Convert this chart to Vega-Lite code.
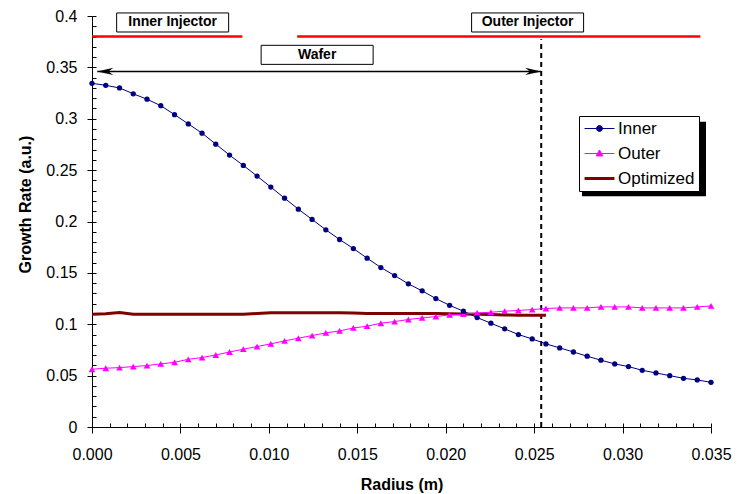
{
  "$schema": "https://vega.github.io/schema/vega-lite/v6.json",
  "width": 619,
  "height": 411,
  "autosize": {"type": "none"},
  "padding": {"left": 92, "top": 16, "right": 29, "bottom": 67},
  "background": "white",
  "config": {
    "view": {"stroke": null},
    "font": "Liberation Sans",
    "axis": {"grid": false, "domainColor": "black", "tickColor": "black", "labelColor": "black", "titleColor": "black", "labelFont": "Liberation Sans", "titleFont": "Liberation Sans", "labelFlush": false}
  },
  "datasets": {
    "series": [
      {"radius": 0, "series": "Inner", "rate": 0.3345},
      {"radius": 0.000778, "series": "Inner", "rate": 0.3325},
      {"radius": 0.001556, "series": "Inner", "rate": 0.33},
      {"radius": 0.002333, "series": "Inner", "rate": 0.3243},
      {"radius": 0.003111, "series": "Inner", "rate": 0.319},
      {"radius": 0.003889, "series": "Inner", "rate": 0.3127},
      {"radius": 0.004667, "series": "Inner", "rate": 0.304},
      {"radius": 0.005444, "series": "Inner", "rate": 0.295},
      {"radius": 0.006222, "series": "Inner", "rate": 0.286},
      {"radius": 0.007, "series": "Inner", "rate": 0.2753},
      {"radius": 0.007778, "series": "Inner", "rate": 0.2646},
      {"radius": 0.008556, "series": "Inner", "rate": 0.2546},
      {"radius": 0.009333, "series": "Inner", "rate": 0.2442},
      {"radius": 0.010111, "series": "Inner", "rate": 0.2335},
      {"radius": 0.010889, "series": "Inner", "rate": 0.2227},
      {"radius": 0.011667, "series": "Inner", "rate": 0.212},
      {"radius": 0.012444, "series": "Inner", "rate": 0.202},
      {"radius": 0.013222, "series": "Inner", "rate": 0.1919},
      {"radius": 0.014, "series": "Inner", "rate": 0.1825},
      {"radius": 0.014778, "series": "Inner", "rate": 0.1737},
      {"radius": 0.015556, "series": "Inner", "rate": 0.1643},
      {"radius": 0.016333, "series": "Inner", "rate": 0.1552},
      {"radius": 0.017111, "series": "Inner", "rate": 0.1474},
      {"radius": 0.017889, "series": "Inner", "rate": 0.1393},
      {"radius": 0.018667, "series": "Inner", "rate": 0.1325},
      {"radius": 0.019444, "series": "Inner", "rate": 0.125},
      {"radius": 0.020222, "series": "Inner", "rate": 0.1184},
      {"radius": 0.021, "series": "Inner", "rate": 0.1127},
      {"radius": 0.021778, "series": "Inner", "rate": 0.1065},
      {"radius": 0.022556, "series": "Inner", "rate": 0.101},
      {"radius": 0.023333, "series": "Inner", "rate": 0.0955},
      {"radius": 0.024111, "series": "Inner", "rate": 0.09},
      {"radius": 0.024889, "series": "Inner", "rate": 0.0857},
      {"radius": 0.025667, "series": "Inner", "rate": 0.0809},
      {"radius": 0.026444, "series": "Inner", "rate": 0.077},
      {"radius": 0.027222, "series": "Inner", "rate": 0.073},
      {"radius": 0.028, "series": "Inner", "rate": 0.0689},
      {"radius": 0.028778, "series": "Inner", "rate": 0.065},
      {"radius": 0.029556, "series": "Inner", "rate": 0.0614},
      {"radius": 0.030333, "series": "Inner", "rate": 0.0588},
      {"radius": 0.031111, "series": "Inner", "rate": 0.0552},
      {"radius": 0.031889, "series": "Inner", "rate": 0.0526},
      {"radius": 0.032667, "series": "Inner", "rate": 0.05},
      {"radius": 0.033444, "series": "Inner", "rate": 0.0474},
      {"radius": 0.034222, "series": "Inner", "rate": 0.0458},
      {"radius": 0.035, "series": "Inner", "rate": 0.0435},
      {"radius": 0, "series": "Outer", "rate": 0.0562},
      {"radius": 0.000778, "series": "Outer", "rate": 0.0572},
      {"radius": 0.001556, "series": "Outer", "rate": 0.0578},
      {"radius": 0.002333, "series": "Outer", "rate": 0.0588},
      {"radius": 0.003111, "series": "Outer", "rate": 0.0598},
      {"radius": 0.003889, "series": "Outer", "rate": 0.0614},
      {"radius": 0.004667, "series": "Outer", "rate": 0.063},
      {"radius": 0.005444, "series": "Outer", "rate": 0.0659},
      {"radius": 0.006222, "series": "Outer", "rate": 0.0676},
      {"radius": 0.007, "series": "Outer", "rate": 0.0701},
      {"radius": 0.007778, "series": "Outer", "rate": 0.073},
      {"radius": 0.008556, "series": "Outer", "rate": 0.0757},
      {"radius": 0.009333, "series": "Outer", "rate": 0.0783},
      {"radius": 0.010111, "series": "Outer", "rate": 0.0809},
      {"radius": 0.010889, "series": "Outer", "rate": 0.0838},
      {"radius": 0.011667, "series": "Outer", "rate": 0.0864},
      {"radius": 0.012444, "series": "Outer", "rate": 0.089},
      {"radius": 0.013222, "series": "Outer", "rate": 0.0916},
      {"radius": 0.014, "series": "Outer", "rate": 0.0935},
      {"radius": 0.014778, "series": "Outer", "rate": 0.0964},
      {"radius": 0.015556, "series": "Outer", "rate": 0.0981},
      {"radius": 0.016333, "series": "Outer", "rate": 0.101},
      {"radius": 0.017111, "series": "Outer", "rate": 0.1026},
      {"radius": 0.017889, "series": "Outer", "rate": 0.1046},
      {"radius": 0.018667, "series": "Outer", "rate": 0.1062},
      {"radius": 0.019444, "series": "Outer", "rate": 0.1075},
      {"radius": 0.020222, "series": "Outer", "rate": 0.1091},
      {"radius": 0.021, "series": "Outer", "rate": 0.1098},
      {"radius": 0.021778, "series": "Outer", "rate": 0.111},
      {"radius": 0.022556, "series": "Outer", "rate": 0.1117},
      {"radius": 0.023333, "series": "Outer", "rate": 0.1127},
      {"radius": 0.024111, "series": "Outer", "rate": 0.1134},
      {"radius": 0.024889, "series": "Outer", "rate": 0.1143},
      {"radius": 0.025667, "series": "Outer", "rate": 0.1153},
      {"radius": 0.026444, "series": "Outer", "rate": 0.1159},
      {"radius": 0.027222, "series": "Outer", "rate": 0.1159},
      {"radius": 0.028, "series": "Outer", "rate": 0.1159},
      {"radius": 0.028778, "series": "Outer", "rate": 0.1169},
      {"radius": 0.029556, "series": "Outer", "rate": 0.1169},
      {"radius": 0.030333, "series": "Outer", "rate": 0.1169},
      {"radius": 0.031111, "series": "Outer", "rate": 0.1159},
      {"radius": 0.031889, "series": "Outer", "rate": 0.1159},
      {"radius": 0.032667, "series": "Outer", "rate": 0.1159},
      {"radius": 0.033444, "series": "Outer", "rate": 0.1159},
      {"radius": 0.034222, "series": "Outer", "rate": 0.1169},
      {"radius": 0.035, "series": "Outer", "rate": 0.1178},
      {"radius": 0, "series": "Optimized", "rate": 0.1097},
      {"radius": 0.000778, "series": "Optimized", "rate": 0.1102},
      {"radius": 0.001556, "series": "Optimized", "rate": 0.1115},
      {"radius": 0.002333, "series": "Optimized", "rate": 0.1097},
      {"radius": 0.003111, "series": "Optimized", "rate": 0.1097},
      {"radius": 0.003889, "series": "Optimized", "rate": 0.1097},
      {"radius": 0.004667, "series": "Optimized", "rate": 0.1097},
      {"radius": 0.005444, "series": "Optimized", "rate": 0.1097},
      {"radius": 0.006222, "series": "Optimized", "rate": 0.1097},
      {"radius": 0.007, "series": "Optimized", "rate": 0.1097},
      {"radius": 0.007778, "series": "Optimized", "rate": 0.1097},
      {"radius": 0.008556, "series": "Optimized", "rate": 0.1097},
      {"radius": 0.009333, "series": "Optimized", "rate": 0.1105},
      {"radius": 0.010111, "series": "Optimized", "rate": 0.1112},
      {"radius": 0.010889, "series": "Optimized", "rate": 0.1112},
      {"radius": 0.011667, "series": "Optimized", "rate": 0.1112},
      {"radius": 0.012444, "series": "Optimized", "rate": 0.1112},
      {"radius": 0.013222, "series": "Optimized", "rate": 0.1112},
      {"radius": 0.014, "series": "Optimized", "rate": 0.1112},
      {"radius": 0.014778, "series": "Optimized", "rate": 0.111},
      {"radius": 0.015556, "series": "Optimized", "rate": 0.1105},
      {"radius": 0.016333, "series": "Optimized", "rate": 0.1104},
      {"radius": 0.017111, "series": "Optimized", "rate": 0.1104},
      {"radius": 0.017889, "series": "Optimized", "rate": 0.1104},
      {"radius": 0.018667, "series": "Optimized", "rate": 0.1104},
      {"radius": 0.019444, "series": "Optimized", "rate": 0.1104},
      {"radius": 0.020222, "series": "Optimized", "rate": 0.1102},
      {"radius": 0.021, "series": "Optimized", "rate": 0.11},
      {"radius": 0.021778, "series": "Optimized", "rate": 0.1098},
      {"radius": 0.022556, "series": "Optimized", "rate": 0.1095},
      {"radius": 0.023333, "series": "Optimized", "rate": 0.1091},
      {"radius": 0.024111, "series": "Optimized", "rate": 0.1087},
      {"radius": 0.024889, "series": "Optimized", "rate": 0.1087},
      {"radius": 0.025667, "series": "Optimized", "rate": 0.1087}
    ],
    "injectors": [
      {"start": 0, "end": 0.0085, "level": 0.38},
      {"start": 0.0116, "end": 0.0344, "level": 0.38}
    ],
    "edge": [{"radius": 0.0254, "low": 0, "high": 0.3773}],
    "arrow": [{"start": 0.0003, "end": 0.0254, "level": 0.3461}],
    "labels": [
      {"label": "Inner Injector", "radius": 0.00456, "level": 0.3937},
      {"label": "Outer Injector", "radius": 0.02463, "level": 0.3937},
      {"label": "Wafer", "radius": 0.01273, "level": 0.3622}
    ]
  },
  "layer": [
    {
      "data": {"name": "injectors"},
      "mark": {"type": "rule", "color": "#FF0000", "strokeWidth": 2.5},
      "encoding": {
        "x": {"field": "start", "type": "quantitative", "scale": {"domain": [0, 0.035], "nice": false}, "axis": null},
        "x2": {"field": "end"},
        "y": {"field": "level", "type": "quantitative", "scale": {"domain": [0, 0.4], "nice": false}, "axis": null}
      }
    },
    {
      "data": {"name": "edge"},
      "mark": {"type": "rule", "color": "black", "strokeWidth": 2, "strokeDash": [5, 4]},
      "encoding": {
        "x": {"field": "radius", "type": "quantitative", "axis": null},
        "y": {"field": "low", "type": "quantitative", "axis": null},
        "y2": {"field": "high"}
      }
    },
    {
      "data": {"name": "arrow"},
      "mark": {"type": "rule", "color": "black", "strokeWidth": 1.5},
      "encoding": {
        "x": {"field": "start", "type": "quantitative", "axis": null},
        "x2": {"field": "end"},
        "y": {"field": "level", "type": "quantitative", "axis": null}
      }
    },
    {
      "data": {"name": "arrow"},
      "mark": {"type": "point", "shape": "M0,0L2,-0.45L1.4,0L2,0.45Z", "size": 256, "filled": true, "color": "black", "opacity": 1},
      "encoding": {
        "x": {"field": "start", "type": "quantitative", "axis": null},
        "y": {"field": "level", "type": "quantitative", "axis": null}
      }
    },
    {
      "data": {"name": "arrow"},
      "mark": {"type": "point", "shape": "M0,0L-2,-0.45L-1.4,0L-2,0.45Z", "size": 256, "filled": true, "color": "black", "opacity": 1},
      "encoding": {
        "x": {"field": "end", "type": "quantitative", "axis": null},
        "y": {"field": "level", "type": "quantitative", "axis": null}
      }
    },
    {
      "data": {"name": "labels"},
      "mark": {"type": "point", "shape": "M-1,-0.17L1,-0.17L1,0.17L-1,0.17Z", "size": 12544, "filled": true, "fill": "white", "stroke": "black", "strokeWidth": 1, "opacity": 1},
      "encoding": {
        "x": {"field": "radius", "type": "quantitative", "axis": null},
        "y": {"field": "level", "type": "quantitative", "axis": null}
      }
    },
    {
      "data": {"name": "labels"},
      "mark": {"type": "text", "font": "Liberation Sans", "fontSize": 14, "fontWeight": "bold", "color": "black", "align": "center", "baseline": "middle"},
      "encoding": {
        "x": {"field": "radius", "type": "quantitative", "axis": null},
        "y": {"field": "level", "type": "quantitative", "axis": null},
        "text": {"field": "label"},
        "opacity": {"field": "label", "type": "ordinal",
          "scale": {"range": [1, 1]},
          "legend": {
            "title": null, "orient": "none", "legendX": 490, "legendY": 81, "zindex": 0,
            "values": ["Wafer"],
            "padding": 0, "rowPadding": 0, "symbolSize": 15376, "symbolOffset": 0, "labelOffset": 0,
            "symbolType": "M-1,-0.6L1,-0.6L1,0.6L-1,0.6Z", "symbolStrokeColor": "black", "symbolFillColor": "black", "symbolStrokeWidth": 0,
            "labelExpr": "''", "labelFontSize": 1,
            "strokeColor": null, "fillColor": null
          }}
      }
    },
    {
      "data": {"name": "series"},
      "transform": [{"filter": "datum.series === 'Optimized'"}],
      "mark": {"type": "line", "strokeWidth": 3},
      "encoding": {
        "x": {"field": "radius", "type": "quantitative",
          "axis": {"orient": "bottom", "title": "Radius (m)", "values": [0, 0.005, 0.01, 0.015, 0.02, 0.025, 0.03, 0.035], "format": ".3f", "tickSize": 6, "labelFontSize": 16, "labelPadding": 13, "titleFontSize": 16, "titleFontWeight": "bold", "titlePadding": 14}},
        "y": {"field": "rate", "type": "quantitative",
          "axis": {"orient": "left", "title": "Growth Rate (a.u.)", "values": [0, 0.05, 0.1, 0.15, 0.2, 0.25, 0.3, 0.35, 0.4], "format": "~g", "tickSize": 5, "labelFontSize": 16, "labelPadding": 10, "titleFontSize": 16, "titleFontWeight": "bold", "titleX": -59, "titleY": 188}},
        "color": {"field": "series", "type": "nominal",
          "scale": {"domain": ["Inner", "Outer", "Optimized"], "range": ["#000080", "#FF00FF", "#800000"]},
          "legend": {
            "title": null, "orient": "none", "legendX": 487, "legendY": 100, "zindex": 1,
            "padding": 4, "rowPadding": 7, "symbolSize": 484, "symbolOffset": 8, "labelOffset": 10,
            "labelFont": "Liberation Sans", "labelFontSize": 17, "labelColor": "black",
            "strokeColor": "black", "fillColor": "white",
            "encode": {"symbols": {"update": {
              "shape": {"signal": "datum.value === 'Inner' ? 'M-1.36,0L1.36,0M-0.27,0A0.27,0.27,0,1,1,0.27,0A0.27,0.27,0,1,1,-0.27,0Z' : datum.value === 'Outer' ? 'M-1.36,0L1.36,0M0,-0.32L0.3,0.22L-0.3,0.22Z' : 'M-1.36,0L1.36,0'"},
              "strokeWidth": {"signal": "datum.value === 'Optimized' ? 3 : 1"},
              "fill": {"signal": "scale('color', datum.value)"},
              "stroke": {"signal": "scale('color', datum.value)"},
              "opacity": {"value": 1},
              "fillOpacity": {"value": 1},
              "strokeOpacity": {"value": 1}
            }}}
          }}
      }
    },
    {
      "data": {"name": "series"},
      "transform": [{"filter": "datum.series !== 'Optimized'"}],
      "mark": {"type": "line", "strokeWidth": 1},
      "encoding": {
        "x": {"field": "radius", "type": "quantitative",
          "axis": {"orient": "bottom", "title": null, "values": [0, 0.001, 0.002, 0.003, 0.004, 0.005, 0.006, 0.007, 0.008, 0.009, 0.01, 0.011, 0.012, 0.013, 0.014, 0.015, 0.016, 0.017, 0.018, 0.019, 0.02, 0.021, 0.022, 0.023, 0.024, 0.025, 0.026, 0.027, 0.028, 0.029, 0.03, 0.031, 0.032, 0.033, 0.034, 0.035], "labels": false, "domain": false, "tickSize": -4}},
        "y": {"field": "rate", "type": "quantitative",
          "axis": {"orient": "left", "title": null, "values": [0, 0.01, 0.02, 0.03, 0.04, 0.05, 0.06, 0.07, 0.08, 0.09, 0.1, 0.11, 0.12, 0.13, 0.14, 0.15, 0.16, 0.17, 0.18, 0.19, 0.2, 0.21, 0.22, 0.23, 0.24, 0.25, 0.26, 0.27, 0.28, 0.29, 0.3, 0.31, 0.32, 0.33, 0.34, 0.35, 0.36, 0.37, 0.38, 0.39, 0.4], "labels": false, "domain": false, "tickSize": -4}},
        "color": {"field": "series", "type": "nominal"}
      }
    },
    {
      "data": {"name": "series"},
      "transform": [{"filter": "datum.series === 'Outer'"}],
      "mark": {"type": "point", "shape": "triangle-up", "size": 45, "filled": true, "color": "#FF00FF", "opacity": 1},
      "encoding": {
        "x": {"field": "radius", "type": "quantitative", "axis": null},
        "y": {"field": "rate", "type": "quantitative", "axis": null}
      }
    },
    {
      "data": {"name": "series"},
      "transform": [{"filter": "datum.series === 'Inner'"}],
      "mark": {"type": "point", "shape": "circle", "size": 28, "filled": true, "color": "#000080", "opacity": 1},
      "encoding": {
        "x": {"field": "radius", "type": "quantitative", "axis": null},
        "y": {"field": "rate", "type": "quantitative", "axis": null}
      }
    }
  ],
  "resolve": {"axis": {"x": "independent", "y": "independent"}}
}
